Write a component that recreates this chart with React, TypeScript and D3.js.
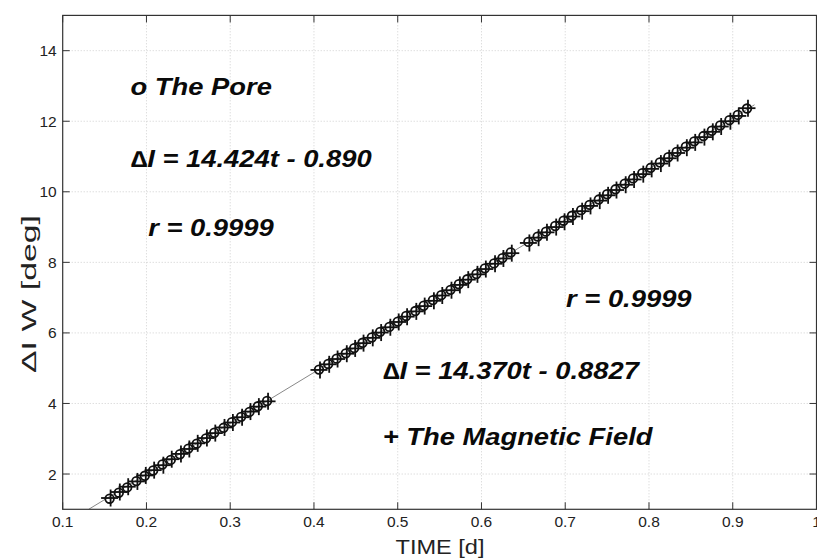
import React from "react";
import * as d3 from "d3";

const W = 817;
const H = 559;

const xTicks = [0.1, 0.2, 0.3, 0.4, 0.5, 0.6, 0.7, 0.8, 0.9, 1];
const xTickLabels = ["0.1", "0.2", "0.3", "0.4", "0.5", "0.6", "0.7", "0.8", "0.9", "1"];
const yTicks = [2, 4, 6, 8, 10, 12, 14];
const yTickLabels = ["2", "4", "6", "8", "10", "12", "14"];

const times = [
  0.156, 0.167, 0.177, 0.188, 0.198, 0.208, 0.219, 0.229, 0.240, 0.250, 0.260, 0.271, 0.281, 0.292, 0.302, 0.313, 0.323, 0.333, 0.344,
  0.406, 0.417, 0.427, 0.438, 0.448, 0.458, 0.469, 0.479, 0.490, 0.500, 0.510, 0.521, 0.531, 0.542, 0.552, 0.563, 0.573, 0.583, 0.594, 0.604, 0.615, 0.625, 0.635,
  0.656, 0.667, 0.677, 0.688, 0.698, 0.708, 0.719, 0.729, 0.740, 0.750, 0.760, 0.771, 0.781, 0.792, 0.802, 0.813, 0.823, 0.833, 0.844, 0.854, 0.865, 0.875, 0.885, 0.896, 0.906, 0.917,
];

const poreValues = [
  1.30, 1.47, 1.62, 1.80, 1.95, 2.10, 2.27, 2.40, 2.56, 2.72, 2.86, 3.01, 3.17, 3.31, 3.47, 3.62, 3.76, 3.92, 4.07,
  4.96, 5.12, 5.27, 5.42, 5.57, 5.72, 5.87, 6.03, 6.17, 6.32, 6.48, 6.62, 6.77, 6.93, 7.07, 7.22, 7.38, 7.52, 7.67, 7.83, 7.97, 8.12, 8.28,
  8.58, 8.73, 8.87, 9.03, 9.18, 9.32, 9.48, 9.63, 9.78, 9.93, 10.07, 10.23, 10.38, 10.53, 10.68, 10.83, 10.98, 11.13, 11.28, 11.43, 11.58, 11.73, 11.88, 12.03, 12.18, 12.36,
];

const fieldValues = [
  1.32, 1.49, 1.64, 1.79, 1.96, 2.11, 2.25, 2.42, 2.57, 2.71, 2.87, 3.02, 3.16, 3.32, 3.46, 3.61, 3.77, 3.91, 4.06,
  4.95, 5.11, 5.26, 5.41, 5.56, 5.71, 5.86, 6.01, 6.16, 6.31, 6.46, 6.61, 6.76, 6.91, 7.06, 7.21, 7.36, 7.51, 7.66, 7.81, 7.96, 8.11, 8.26,
  8.55, 8.70, 8.85, 9.00, 9.15, 9.30, 9.45, 9.60, 9.75, 9.90, 10.05, 10.20, 10.35, 10.50, 10.65, 10.80, 10.95, 11.10, 11.25, 11.40, 11.55, 11.70, 11.85, 12.00, 12.15, 12.37,
];

const fitSlope = 14.424;
const fitIntercept = -0.89;
const fitRange = [0.131, 0.926];

const annotations = [
  { text: "o The Pore", t: 0.181, v: 12.74 },
  { text: "\u2206I = 14.424t - 0.890", t: 0.181, v: 10.7 },
  { text: "r = 0.9999", t: 0.202, v: 8.76 },
  { text: "r = 0.9999", t: 0.701, v: 6.74 },
  { text: "\u2206I = 14.370t - 0.8827", t: 0.482, v: 4.69 },
  { text: "+ The Magnetic Field", t: 0.482, v: 2.83 },
];

const margin = { left: 62.7, right: 0.5, top: 15.4, bottom: 49.7 };

export default function App() {
  const x = d3.scaleLinear().domain([0.1, 1]).range([margin.left, W - margin.right]);
  const y = d3.scaleLinear().domain([1, 15]).range([H - margin.bottom, margin.top]);
  const x0 = margin.left;
  const x1 = W - margin.right;
  const y0 = H - margin.bottom;
  const y1 = margin.top;
  const font = "'Liberation Sans', Arial, Helvetica, sans-serif";
  const tickLen = 7;
  const line = d3
    .line<number>()
    .x((t) => x(t))
    .y((t) => y(fitSlope * t + fitIntercept));
  const arm = 8.5;

  return (
    <svg
      width={W}
      height={H}
      style={{ position: "absolute", left: 0, top: 0, background: "#fff" }}
      fontFamily={font}
    >
      <rect x={0} y={0} width={W} height={H} fill="#fff" />
      {xTicks.slice(1, -1).map((t) => (
        <line key={"gx" + t} x1={x(t)} x2={x(t)} y1={y0} y2={y1} stroke="#cfcfcf" strokeWidth={1} strokeDasharray="1 2" />
      ))}
      {yTicks.map((v) => (
        <line key={"gy" + v} x1={x0} x2={x1} y1={y(v)} y2={y(v)} stroke="#cfcfcf" strokeWidth={1} strokeDasharray="1 2" />
      ))}
      <path d={line(fitRange) || ""} stroke="#888" strokeWidth={1} fill="none" />
      {times.map((t, i) => (
        <g key={"m" + i} stroke="#111" strokeWidth={1.8} fill="none">
          <line x1={x(t) - arm} x2={x(t) + arm} y1={y(fieldValues[i])} y2={y(fieldValues[i])} />
          <line x1={x(t) + 1} x2={x(t) + 1} y1={y(fieldValues[i]) - arm} y2={y(fieldValues[i]) + arm} />
          <circle cx={x(t)} cy={y(poreValues[i])} r={4.3} />
        </g>
      ))}
      <rect x={x0} y={y1} width={x1 - x0} height={y0 - y1} fill="none" stroke="#333" strokeWidth={1.2} />
      {xTicks.map((t) => (
        <g key={"tx" + t} stroke="#333" strokeWidth={1}>
          <line x1={x(t)} x2={x(t)} y1={y0} y2={y0 - tickLen} />
          <line x1={x(t)} x2={x(t)} y1={y1} y2={y1 + tickLen} />
        </g>
      ))}
      {yTicks.map((v) => (
        <g key={"ty" + v} stroke="#333" strokeWidth={1}>
          <line x1={x0} x2={x0 + tickLen} y1={y(v)} y2={y(v)} />
          <line x1={x1} x2={x1 - tickLen} y1={y(v)} y2={y(v)} />
        </g>
      ))}
      {xTicks.map((t, i) => (
        <text key={"lx" + t} x={x(t)} y={y0 + 18} textAnchor="middle" fontSize={15.5} fill="#222">
          {xTickLabels[i]}
        </text>
      ))}
      {yTicks.map((v, i) => (
        <text key={"ly" + v} x={x0 - 6} y={y(v) + 5.5} textAnchor="end" fontSize={15.5} fill="#222">
          {yTickLabels[i]}
        </text>
      ))}
      <text
        x={440}
        y={H - 5}
        textAnchor="middle"
        fontSize={20}
        fill="#222"
        textLength={89}
        lengthAdjust="spacingAndGlyphs"
      >
        TIME [d]
      </text>
      <text
        transform={`translate(${29},${294}) rotate(-90)`}
        textAnchor="middle"
        dy="0.35em"
        fontSize={21}
        fill="#222"
        textLength={158}
        lengthAdjust="spacingAndGlyphs"
      >
        {"\u0394I W [deg]"}
      </text>
      {annotations.map((a, i) => (
        <text
          key={"an" + i}
          transform={`translate(${x(a.t)},${y(a.v)}) scale(1.19,1)`}
          fontSize={23}
          fontWeight="bold"
          fontStyle="italic"
          fill="#0a0a0a"
        >
          {a.text}
        </text>
      ))}
    </svg>
  );
}
